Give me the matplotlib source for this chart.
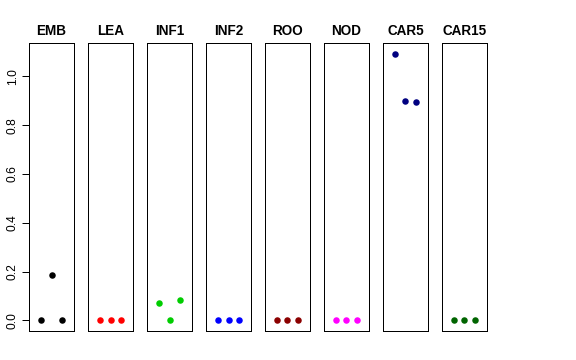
import matplotlib
matplotlib.use("Agg")
from matplotlib import pyplot as plt

plt.rcParams['font.family'] = ['Liberation Sans', 'DejaVu Sans']

# Panels (tissues) and their colours
tissues = ["EMB", "LEA", "INF1", "INF2", "ROO", "NOD", "CAR5", "CAR15"]
colors = ["black", "red", "#00CD00", "blue", "#8B0000", "magenta", "#000080", "#006400"]

# Three replicate values per panel
reps = [1, 2, 3]
values = [
    [0.0, 0.185, 0.0],
    [0.0, 0.0, 0.0],
    [0.073, 0.0, 0.082],
    [0.0, 0.0, 0.0],
    [0.0, 0.0, 0.0],
    [0.0, 0.0, 0.0],
    [1.093, 0.901, 0.895],
    [0.0, 0.0, 0.0],
]
yticks = [0.0, 0.2, 0.4, 0.6, 0.8, 1.0]

fig, axes = plt.subplots(1, len(tissues), figsize=(8, 5), dpi=72, sharey=True)
fig.subplots_adjust(left=29 / 576, right=487 / 576, bottom=29 / 360, top=317 / 360,
                    wspace=0.31)

ymax = max(max(v) for v in values)
span = ymax * 0.04

for i, ax in enumerate(axes):
    ax.plot(reps, values[i], 'o', color=colors[i], markersize=6.5, markeredgewidth=0)
    ax.set_xlim(-0.16, 4.16)
    ax.set_ylim(-span, ymax + span)
    ax.set_title(tissues[i], fontsize=13.5, fontweight='bold', pad=8)
    ax.set_xticks([])
    for s in ax.spines.values():
        s.set_linewidth(1.0)
        s.set_color('black')
    if i == 0:
        ax.set_yticks(yticks)
        ax.set_yticklabels([f"{t:.1f}" for t in yticks], rotation=90, va='center',
                           fontsize=12)
        ax.tick_params(axis='y', length=7, width=1, pad=3)
    else:
        ax.tick_params(axis='y', left=False, labelleft=False)

plt.savefig("out.png", dpi=72)
